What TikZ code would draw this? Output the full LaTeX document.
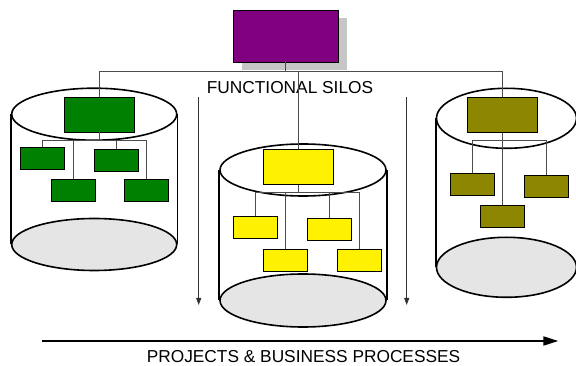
\documentclass[tikz,border=0pt]{standalone}
\usepackage{fontspec}
\setmainfont{Liberation Sans}
\usetikzlibrary{arrows.meta,shapes.geometric}

\begin{document}
\begin{tikzpicture}[x=1pt,y=-1pt,>=Stealth,font=\fontsize{17.3}{20}\selectfont,
 box/.style={draw,line width=0.8pt,minimum width=44pt,minimum height=22pt,inner sep=0pt},
 head/.style={box,minimum width=70pt,minimum height=35pt},
 lid/.style={ellipse,draw,line width=1.6pt,inner sep=0pt},
 base/.style={lid,fill=gray!20},
 wire/.style={black!70,line width=0.9pt},
 flow/.style={black!80,line width=0.9pt,-{Triangle[length=7pt,width=5pt]}}]
\clip (0,0) rectangle (576,366);
% silos
\node[base,minimum width=165pt,minimum height=52pt] (baseA) at (94.2,244.5) {};
\node[lid,minimum width=165pt,minimum height=52pt] (lidA) at (94.2,114.2) {};
\draw[line width=1.6pt] (lidA.west) -- (baseA.west) (lidA.east) -- (baseA.east);
\node[base,minimum width=166pt,minimum height=53pt] (baseB) at (303,300.5) {};
\node[lid,minimum width=166pt,minimum height=52pt] (lidB) at (303,170) {};
\draw[line width=1.6pt] (lidB.west) -- (baseB.west) (lidB.east) -- (baseB.east);
\node[base,minimum width=140pt,minimum height=60pt] (baseC) at (506.5,267.3) {};
\node[lid,minimum width=140pt,minimum height=60pt] (lidC) at (506.5,118.3) {};
\draw[line width=1.6pt] (lidC.west) -- (baseC.west) (lidC.east) -- (baseC.east);
% top of the organisation
\node[minimum width=105pt,minimum height=52pt,fill=gray!45] (bossShade) at (294.5,44.5) {};
\node[box,fill={rgb,255:red,128;green,0;blue,128},minimum width=105pt,minimum height=52pt] (boss) at (285.5,36) {};
\node[anchor=base] (silos) at (290,94) {FUNCTIONAL SILOS};
% green silo
\node[head,fill={rgb,255:red,0;green,128;blue,0}] (gTop) at (99,114.5) {};
\node[box,fill={rgb,255:red,0;green,128;blue,0}] (g1) at (42.5,158) {};
\node[box,fill={rgb,255:red,0;green,128;blue,0}] (g2) at (116,160) {};
\node[box,fill={rgb,255:red,0;green,128;blue,0}] (g3) at (73,190.5) {};
\node[box,fill={rgb,255:red,0;green,128;blue,0}] (g4) at (146.7,190.5) {};
% yellow silo
\node[head,fill=yellow] (yTop) at (298.3,166.7) {};
\node[box,fill=yellow] (y1) at (255,227.5) {};
\node[box,fill=yellow] (y2) at (329,229.5) {};
\node[box,fill=yellow] (y3) at (285.3,260) {};
\node[box,fill=yellow] (y4) at (359.2,260) {};
% olive silo
\node[head,fill=olive] (oTop) at (502.5,114.8) {};
\node[box,fill=olive] (o1) at (472.3,184.2) {};
\node[box,fill=olive] (o2) at (546,186.5) {};
\node[box,fill=olive] (o3) at (502.7,216.8) {};
% connectors
\draw[wire] (boss.south) -- ++(0,9) -| (gTop.north);
\draw[wire] (boss.south) -- ++(0,9) -| (yTop.north);
\draw[wire] (boss.south) -- ++(0,9) -| (oTop.north);
\foreach \c in {g1,g2,g3,g4} \draw[wire] (gTop.south) -- ++(0,8) -| (\c.north);
\foreach \c in {y1,y2,y3,y4} \draw[wire] (yTop.south) -- ++(0,8) -| (\c.north);
\foreach \c in {o1,o2,o3} \draw[wire] (oTop.south) -- ++(0,8) -| (\c.north);
% process flow
\coordinate (dropL) at (198.7,97);
\coordinate (endL) at (198.7,305);
\coordinate (dropR) at (406.7,97);
\coordinate (endR) at (406.7,305);
\draw[flow] (dropL) -- (endL);
\draw[flow] (dropR) -- (endR);
\coordinate (runS) at (41.7,341);
\coordinate (runE) at (558.3,341);
\draw[line width=2pt,-{Triangle[length=15pt,width=9pt]}] (runS) -- (runE);
\node[anchor=base,inner sep=0pt] (projects) at (303.5,362.5) {PROJECTS \& BUSINESS PROCESSES};
\end{tikzpicture}
\end{document}
